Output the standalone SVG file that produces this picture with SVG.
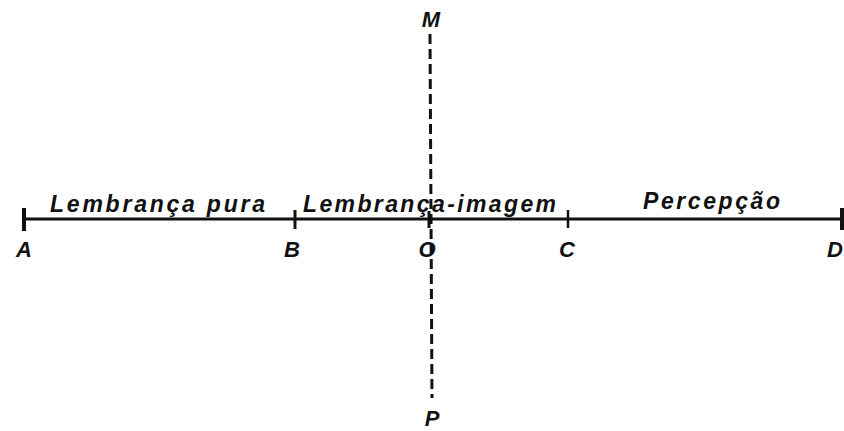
<svg xmlns="http://www.w3.org/2000/svg" width="844" height="431" viewBox="0 0 844 431">
<style>
text{font-family:"Liberation Sans",Arial,sans-serif;font-style:italic;font-weight:bold;fill:#111}
.lbl{font-size:23px}
.pt{font-size:22px;text-anchor:middle}
.ln{stroke:#111;fill:none}
</style>
<g id="connectors">
<line class="ln" x1="22" y1="219" x2="844" y2="219" stroke-width="3"/>
<line class="ln" x1="430" y1="34" x2="432" y2="398" stroke-width="3" stroke-dasharray="10,5"/>
</g>
<g id="ticks">
<line class="ln" x1="24" y1="208" x2="24" y2="231" stroke-width="4"/>
<line class="ln" x1="295" y1="210" x2="295" y2="229" stroke-width="3"/>
<line class="ln" x1="429" y1="211" x2="429" y2="228" stroke-width="3"/>
<line class="ln" x1="568" y1="210" x2="568" y2="228" stroke-width="2.5"/>
<line class="ln" x1="842" y1="208" x2="842" y2="230" stroke-width="4"/>
</g>
<g id="label-pura"><text class="lbl" x="50" y="212" textLength="215" lengthAdjust="spacing">Lembrança pura</text></g>
<g id="label-imagem"><text class="lbl" x="303" y="212" textLength="253" lengthAdjust="spacing">Lembrança-imagem</text></g>
<g id="label-percepcao"><text class="lbl" x="643" y="209" textLength="137" lengthAdjust="spacing">Percepção</text></g>
<g id="point-A"><text class="pt" x="24" y="257">A</text></g>
<g id="point-B"><text class="pt" x="292" y="257">B</text></g>
<g id="point-O"><text class="pt" x="427" y="257">O</text></g>
<g id="point-C"><text class="pt" x="567" y="257">C</text></g>
<g id="point-D"><text class="pt" x="835" y="257">D</text></g>
<g id="point-M"><text class="pt" x="431" y="27">M</text></g>
<g id="point-P"><text class="pt" x="432" y="426">P</text></g>
</svg>
